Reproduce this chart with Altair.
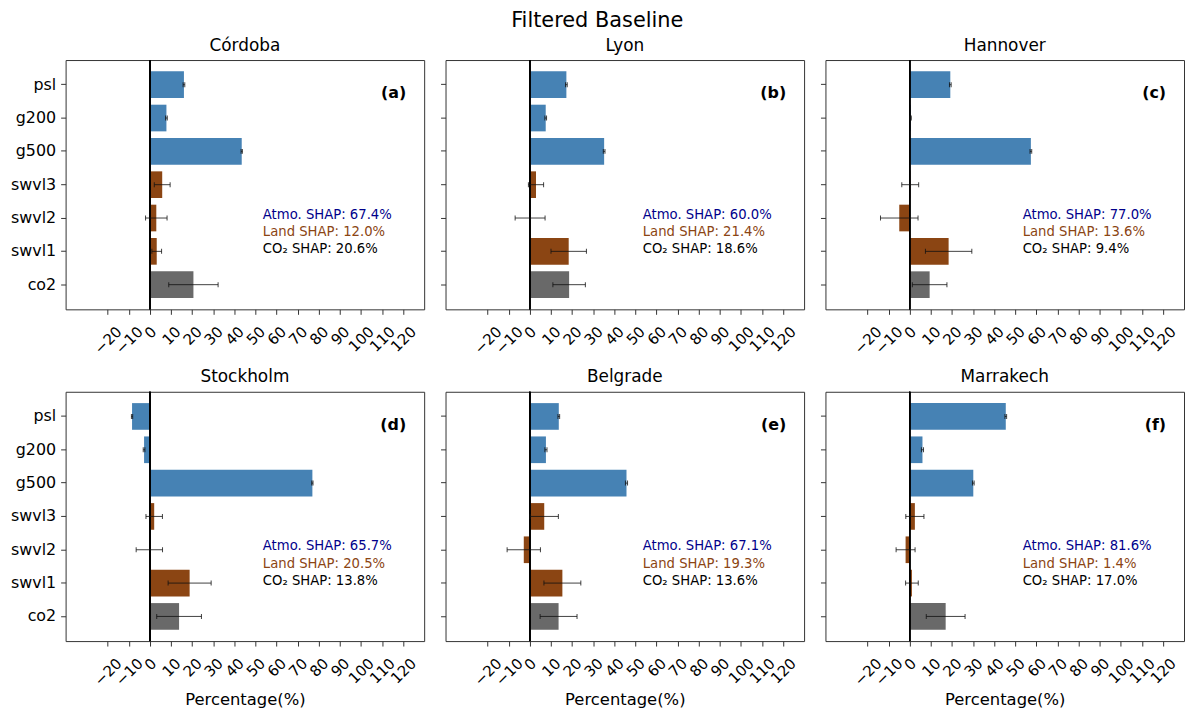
import altair as alt
import pandas as pd

cities = ["Córdoba", "Lyon", "Hannover", "Stockholm", "Belgrade", "Marrakech"]
letters = ["(a)", "(b)", "(c)", "(d)", "(e)", "(f)"]
features = ["psl", "g200", "g500", "swvl3", "swvl2", "swvl1", "co2"]
groups = ["atmo", "atmo", "atmo", "land", "land", "land", "co2"]

values = [
    [16.1, 7.8, 43.5, 5.8, 3.0, 3.2, 20.6],
    [17.3, 7.5, 35.2, 2.9, 0.1, 18.4, 18.6],
    [19.2, 0.4, 57.4, 0.2, -5.0, 18.4, 9.4],
    [-8.5, -2.8, 77.0, 2.0, -0.3, 18.8, 13.8],
    [13.7, 7.6, 45.8, 6.8, -2.9, 15.4, 13.6],
    [45.5, 6.0, 30.1, 2.4, -2.0, 1.0, 17.0],
]
errors = [
    [0.4, 0.4, 0.3, 3.75, 5.1, 2.3, 11.7],
    [0.4, 0.4, 0.4, 3.6, 7.1, 8.4, 7.7],
    [0.4, 0.3, 0.4, 4.0, 8.9, 11.0, 8.2],
    [0.3, 0.4, 0.3, 3.9, 6.25, 10.2, 10.6],
    [0.4, 0.5, 0.5, 6.7, 7.9, 8.75, 8.75],
    [0.4, 0.5, 0.4, 4.3, 4.5, 3.0, 9.2],
]
atmo_pct = [67.4, 60.0, 77.0, 65.7, 67.1, 81.6]
land_pct = [12.0, 21.4, 13.6, 20.5, 19.3, 1.4]
co2_pct = [20.6, 18.6, 9.4, 13.8, 13.6, 17.0]

x_ticks = [-20, -10, 0, 10, 20, 30, 40, 50, 60, 70, 80, 90, 100, 110, 120]

group_domain = ["atmo", "land", "co2"]
group_colors = ["#4682B4", "#8B4513", "#696969"]

rows = []
for i, c in enumerate(cities):
    for j, f in enumerate(features):
        v = values[i][j]
        e = errors[i][j]
        rows.append(dict(city=c, feature=f, group=groups[j], value=v, err=e,
                         lo=v - e, hi=v + e))
df = pd.DataFrame(rows)

W, H = 361, 251
FONT = "DejaVu Sans"

label_offset = {
    "condition": [
        {"test": "datum.value < 0", "value": 11.1},
        {"test": "datum.value == 0", "value": 3.4},
        {"test": "datum.value >= 100", "value": 10.1},
    ],
    "value": 6.75,
}


def panel(i):
    d = df[df.city == cities[i]]
    first_col = (i % 3 == 0)
    bottom = (i >= 3)

    xaxis_kw = dict(values=x_ticks, labelAngle=-45, labelAlign="right",
                    labelBaseline="middle", labelFontSize=15, labelPadding=14.5,
                    labelOffset=label_offset, labelOverlap=False, labelFlush=False,
                    labelBound=False, tickSize=5, tickColor="#333", domain=False,
                    grid=False, labelColor="black")
    if bottom:
        xaxis_kw.update(title="Percentage(%)", titleFontSize=16.5,
                        titleFontWeight="normal", titleY=64,
                        titleBaseline="alphabetic", titleColor="black")
    else:
        xaxis_kw.update(title="")
    xaxis = alt.Axis(**xaxis_kw)

    yaxis_kw = dict(tickSize=5, tickColor="#333", domain=False, grid=False,
                    title="", labelColor="black")
    if first_col:
        yaxis_kw.update(labelFontSize=16, labelPadding=5)
    else:
        yaxis_kw.update(labels=False)
    yaxis = alt.Axis(**yaxis_kw)

    xscale = alt.Scale(domain=[-40, 130], nice=False, zero=False)
    yscale = alt.Scale(paddingInner=0.2, paddingOuter=0.34)

    def X(field):
        return alt.X(field, scale=xscale, axis=xaxis)

    def Y():
        return alt.Y("feature:N", sort=features, scale=yscale, axis=yaxis)

    base = alt.Chart(d)
    bars = base.mark_bar().encode(
        x=X("value:Q"),
        x2=alt.datum(0),
        y=Y(),
        color=alt.Color("group:N", scale=alt.Scale(domain=group_domain, range=group_colors),
                        legend=None),
    )
    zero = base.mark_rule(color="black", strokeWidth=1).encode(
        x=alt.X(datum=0, scale=xscale, axis=xaxis))
    err = base.mark_rule(color="#111", opacity=0.8, strokeWidth=1).encode(
        x=X("lo:Q"), x2="hi:Q", y=Y())
    cap_lo = base.mark_tick(color="#111", opacity=0.8, size=5, thickness=1).encode(
        x=X("lo:Q"), y=Y())
    cap_hi = base.mark_tick(color="#111", opacity=0.8, size=5, thickness=1).encode(
        x=X("hi:Q"), y=Y())

    tx = 0.55 * W
    t1 = alt.Chart(pd.DataFrame({"t": [f"Atmo. SHAP: {atmo_pct[i]:.1f}%"]})).mark_text(
        align="left", baseline="middle", fontSize=13.3, color="#00008B").encode(
        x=alt.value(tx), y=alt.value(0.62 * H), text="t:N")
    t2 = alt.Chart(pd.DataFrame({"t": [f"Land SHAP: {land_pct[i]:.1f}%"]})).mark_text(
        align="left", baseline="middle", fontSize=13.3, color="#8B4513").encode(
        x=alt.value(tx), y=alt.value(0.69 * H), text="t:N")
    t3 = alt.Chart(pd.DataFrame({"t": [f"CO₂ SHAP: {co2_pct[i]:.1f}%"]})).mark_text(
        align="left", baseline="middle", fontSize=13.3, color="black").encode(
        x=alt.value(tx), y=alt.value(0.76 * H), text="t:N")
    lab = alt.Chart(pd.DataFrame({"t": [letters[i]]})).mark_text(
        align="right", baseline="top", fontSize=16, fontWeight="bold", color="black").encode(
        x=alt.value(0.95 * W), y=alt.value(0.1 * H), text="t:N")

    return alt.layer(bars, zero, err, cap_lo, cap_hi, t1, t2, t3, lab).properties(
        width=W, height=H,
        title=alt.TitleParams(cities[i], fontSize=17, fontWeight="normal", offset=5,
                              color="black"),
    )


chart = alt.concat(*[panel(i) for i in range(6)], columns=3,
                   spacing=alt.RowColnumber(row=83, column=21.5), bounds="flush").properties(
    title=alt.TitleParams("Filtered Baseline", fontSize=21, fontWeight="normal",
                          anchor="middle", color="black", offset=5),
    padding={"left": 1, "top": 0, "right": 0, "bottom": 0},
).configure(font=FONT).configure_view(stroke="#333", strokeWidth=1)

chart.save("out.html", embed_options={"renderer": "svg", "actions": False})
